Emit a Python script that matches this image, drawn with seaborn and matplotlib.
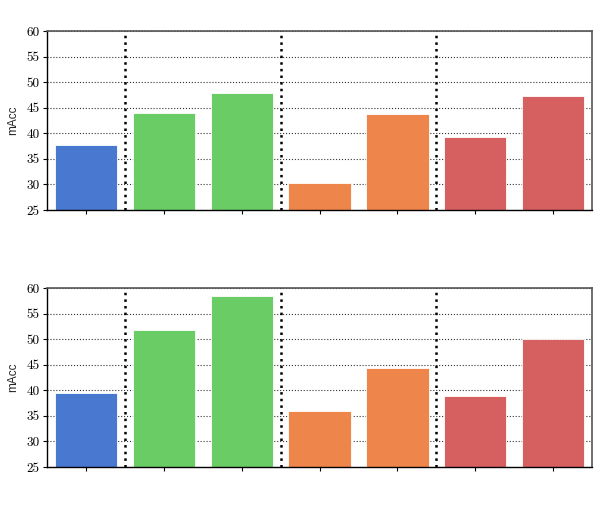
import numpy as np
import pandas as pd
import matplotlib
matplotlib.use("Agg")
import matplotlib.pyplot as plt
import seaborn as sns

# bar values (left to right)
top_vals = [37.7, 44.0, 47.9, 30.2, 43.8, 39.2, 47.2]
bottom_vals = [39.5, 51.8, 58.5, 35.9, 44.4, 38.9, 50.0]
groups = ["a", "b", "b", "c", "c", "d", "d"]
group_colors = {"a": "#4878d0", "b": "#6acc64", "c": "#ee854a", "d": "#d65f5f"}
separators = [0.5, 2.5, 4.5]
yticks = [25, 30, 35, 40, 45, 50, 55, 60]

sns.set_style("white")
plt.rcParams["font.family"] = ["cmr10", "DejaVu Serif"]
plt.rcParams["axes.unicode_minus"] = False
plt.rcParams["axes.formatter.use_mathtext"] = True

fig = plt.figure(figsize=(5.98, 5.13), dpi=100)
ax_top = fig.add_axes([0.0786, 0.5906, 0.9114, 0.349])
ax_bot = fig.add_axes([0.0786, 0.0897, 0.9114, 0.349])

for ax, vals in [(ax_top, top_vals), (ax_bot, bottom_vals)]:
    df = pd.DataFrame({"idx": range(len(vals)), "val": vals, "grp": groups})
    sns.barplot(data=df, x="idx", y="val", hue="grp", palette=group_colors,
                dodge=False, saturation=1, legend=False, width=0.8,
                edgecolor="white", linewidth=0.6, ax=ax, zorder=2)
    ax.set_ylim(25, 60)
    ax.set_xlim(-0.5, len(vals) - 0.5)
    ax.set_yticks(yticks)
    ax.set_yticklabels([str(t) for t in yticks], fontsize=9.5)
    ax.set_xticklabels([])
    ax.set_xlabel("")
    ax.set_ylabel("mAcc", fontsize=8.5, family=["Liberation Sans", "DejaVu Sans"],
                  labelpad=5)
    ax.yaxis.grid(True, linestyle=":", color="#333333", linewidth=0.8, zorder=0)
    ax.set_axisbelow(True)
    for s in separators:
        ax.axvline(s, color="black", linestyle=":", linewidth=1.8, zorder=3)
    ax.tick_params(axis="both", direction="out", length=3, width=0.8,
                   left=True, bottom=True, colors="black", pad=2.5)
    for side in ["left", "bottom"]:
        ax.spines[side].set_color("black")
        ax.spines[side].set_linewidth(1.0)
    for side in ["top", "right"]:
        ax.spines[side].set_color("#555555")
        ax.spines[side].set_linewidth(1.2)

fig.savefig("out.png", dpi=100)
